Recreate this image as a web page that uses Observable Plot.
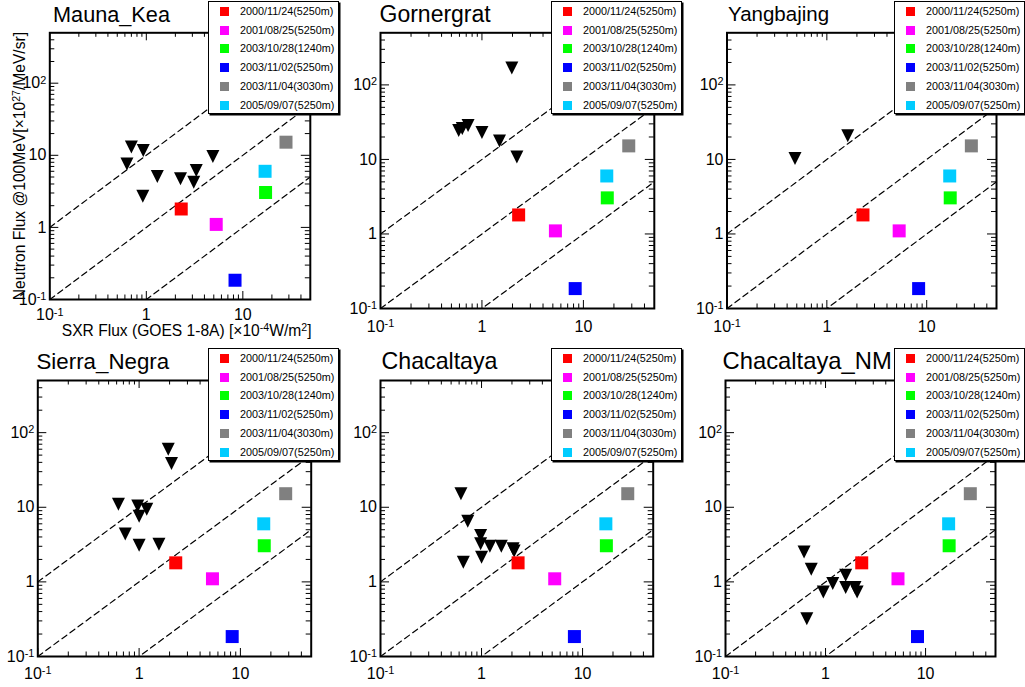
<!DOCTYPE html>
<html>
<head>
<meta charset="utf-8">
<script src="https://cdn.jsdelivr.net/npm/d3@7"></script>
<script src="https://cdn.jsdelivr.net/npm/@observablehq/plot@0.6"></script>
<style>
  body { margin: 0; background: #fff; }
  #root { position: relative; width: 1025px; height: 687px; overflow: hidden; font-family: "Liberation Sans", Arial, sans-serif; color: #000; }
  .pad { position: absolute; }
  .pad svg { overflow: visible; display: block; }
  #overlay { position: absolute; left: 0; top: 0; }
  .legend { position: absolute; box-sizing: border-box; width: 131px; height: 113px; background: #fff; border: 1px solid #000; box-shadow: 1.5px 1.5px 0 #000; }
  .legend .sw { position: absolute; width: 9px; height: 9px; }
  .legend .lt { position: absolute; font-size: 10.8px; line-height: 11px; white-space: nowrap; }
</style>
</head>
<body>
<div id="root"></div>
<script>
// ---------- data ----------
const stationNames = ["Mauna_Kea", "Gornergrat", "Yangbajing", "Sierra_Negra", "Chacaltaya", "Chacaltaya_NM"];

// upper limits (down triangles): SXR flux [1e-4 W/m^2], neutron flux [1e27 /MeV/sr]
const maunaKeaSXR      = [0.70, 0.93, 0.63, 1.30, 0.92, 2.26, 3.29, 3.10, 4.89];
const maunaKeaNeutron  = [13.0, 11.7, 7.6, 5.1, 2.71, 4.72, 6.15, 4.24, 9.6];
const gornergratSXR     = [1.97, 0.59, 0.64, 0.73, 1.0, 1.49, 2.21];
const gornergratNeutron = [168, 24.5, 26, 28.6, 22.9, 17.7, 10.8];
const yangbajingSXR     = [0.48, 1.62];
const yangbajingNeutron = [10.3, 20.8];
const sierraNegraSXR     = [1.94, 2.09, 0.625, 0.97, 1.19, 1.0, 0.73, 1.0, 1.57];
const sierraNegraNeutron = [59.7, 38.7, 11.0, 10.4, 9.4, 7.6, 4.37, 3.1, 3.2];
const chacaltayaSXR     = [0.625, 0.73, 0.98, 0.98, 1.21, 1.57, 2.05, 2.1, 1.0, 0.66];
const chacaltayaNeutron = [15.2, 6.5, 4.19, 3.24, 3.01, 3.01, 2.77, 2.6, 2.14, 1.84];
const chacaltayaNMSXR     = [0.61, 0.72, 1.59, 1.18, 0.95, 1.59, 1.97, 2.07, 0.65];
const chacaltayaNMNeutron = [2.52, 1.48, 1.23, 0.95, 0.73, 0.84, 0.84, 0.73, 0.32];

// detected events (squares)
const eventLabels  = ["2000/11/24(5250m)", "2001/08/25(5250m)", "2003/10/28(1240m)", "2003/11/02(5250m)", "2003/11/04(3030m)", "2005/09/07(5250m)"];
const eventSXR     = [2.3, 5.3, 17.2, 8.3, 28, 17];
const eventNeutron = [1.8, 1.1, 3.05, 0.185, 15.2, 6.0];
const eventColors  = ["#ff0000", "#ff00ff", "#00ff00", "#0000ff", "#808080", "#00ccff"];

// reference lines y = k * x
const refFactors = [10, 1, 0.1];
const refSXR = [0.1, 50];

// axes
const xDomain = [0.1, 50];
const yDomain = [0.1, 500];
const xMajor = [0.1, 1, 10];
const xMajorLabels = ["10^-1", "1", "10"];
const xMinor = [0.2, 0.3, 0.4, 0.5, 0.6, 0.7, 0.8, 0.9, 2, 3, 4, 5, 6, 7, 8, 9, 20, 30, 40];
const yMajor = [0.1, 1, 10, 100];
const yMajorLabels = ["10^-1", "1", "10", "10^2"];
const yMinor = [0.2, 0.3, 0.4, 0.5, 0.6, 0.7, 0.8, 0.9, 2, 3, 4, 5, 6, 7, 8, 9, 20, 30, 40, 50, 60, 70, 80, 90, 200, 300, 400];

const xTitle = "SXR Flux (GOES 1-8A) [×10^-4W/m^2]";
const yTitle = "Neutron Flux @100MeV[×10^27/MeV/sr]";

// ---------- layout ----------
const layouts = [
  {left: 0,   top: 0,   width: 342, height: 343, mL: 49.3, mR: 32.2, mT: 32.3, mB: 44,   pad: 9.5, title: [53, 21.5, 21.7],    legend: [208, 1]},
  {left: 342, top: 0,   width: 342, height: 343, mL: 38,   mR: 30.2, mT: 32.3, mB: 35,   pad: 12,  title: [379.5, 21.5, 23],   legend: [551, 1]},
  {left: 684, top: 0,   width: 341, height: 343, mL: 42.5, mR: 29,   mT: 32.3, mB: 35,   pad: 12,  title: [728, 20.5, 20.5],   legend: [894, 1]},
  {left: 0,   top: 344, width: 342, height: 343, mL: 37.3, mR: 31.3, mT: 36,   mB: 31,   pad: 11,  title: [36.5, 369, 22.3],   legend: [208, 348]},
  {left: 342, top: 344, width: 342, height: 343, mL: 38,   mR: 31.3, mT: 36,   mB: 31,   pad: 11,  title: [381.5, 369, 23.2],  legend: [551, 348]},
  {left: 684, top: 344, width: 341, height: 343, mL: 41,   mR: 30,   mT: 36,   mB: 31,   pad: 11,  title: [722.5, 369, 23.8],  legend: [894, 348]}
];
const stationSXR = [maunaKeaSXR, gornergratSXR, yangbajingSXR, sierraNegraSXR, chacaltayaSXR, chacaltayaNMSXR];
const stationNeutron = [maunaKeaNeutron, gornergratNeutron, yangbajingNeutron, sierraNegraNeutron, chacaltayaNeutron, chacaltayaNMNeutron];

// ---------- symbols ----------
const triDown = {draw(ctx, size) { const r = Math.sqrt(size / Math.PI); ctx.moveTo(-r, -r); ctx.lineTo(r, -r); ctx.lineTo(0, r); ctx.closePath(); }};
const squareSym = {draw(ctx, size) { const r = Math.sqrt(size / Math.PI); ctx.rect(-r, -r, 2 * r, 2 * r); }};

const SVGNS = "http://www.w3.org/2000/svg";
function supify(textEl) {
  const s = textEl.textContent;
  const m = s.match(/^10\^(-?\d+)$/);
  if (!m) return;
  textEl.textContent = "10";
  const ts = document.createElementNS(SVGNS, "tspan");
  ts.setAttribute("dy", "-0.42em");
  ts.setAttribute("font-size", "0.68em");
  ts.textContent = m[1];
  textEl.appendChild(ts);
}

const root = document.getElementById("root");
const FONT = "Liberation Sans, Arial, sans-serif";

layouts.forEach((L, p) => {
  const tri = stationSXR[p].map((x, i) => ({x, y: stationNeutron[p][i]}));
  const ev = eventSXR.map((x, i) => ({x, y: eventNeutron[i], c: eventColors[i]}));
  const lines = refFactors.flatMap(k => refSXR.map(x => ({k, x, y: k * x})));
  const iw = L.width - L.mL - L.mR;
  const ih = L.height - L.mT - L.mB;
  const plot = Plot.plot({
    width: L.width, height: L.height,
    marginLeft: L.mL, marginRight: L.mR, marginTop: L.mT, marginBottom: L.mB,
    x: {type: "log", domain: xDomain},
    y: {type: "log", domain: yDomain},
    color: {type: "identity"},
    style: {background: "transparent", fontFamily: FONT, fontSize: "16px", overflow: "visible", color: "#000"},
    marks: [
      Plot.line(lines, {x: "x", y: "y", z: "k", stroke: "#000", strokeWidth: 1.2, strokeDasharray: "6,4", clip: true}),
      Plot.dot(tri, {x: "x", y: "y", symbol: triDown, r: 6.5, fill: "#000", stroke: "none"}),
      Plot.dot(ev, {x: "x", y: "y", symbol: squareSym, r: 6.5, fill: "c", stroke: "none"}),
      // inward ticks: bottom / top
      Plot.tickX(xMajor, {x: d => d, stroke: "#000", strokeWidth: 1, insetTop: ih - 8}),
      Plot.tickX(xMinor, {x: d => d, stroke: "#000", strokeWidth: 1, insetTop: ih - 4.5}),
      Plot.tickX(xMajor, {x: d => d, stroke: "#000", strokeWidth: 1, insetBottom: ih - 8}),
      Plot.tickX(xMinor, {x: d => d, stroke: "#000", strokeWidth: 1, insetBottom: ih - 4.5}),
      // inward ticks: left / right
      Plot.tickY(yMajor, {y: d => d, stroke: "#000", strokeWidth: 1, insetRight: iw - 9}),
      Plot.tickY(yMinor, {y: d => d, stroke: "#000", strokeWidth: 1, insetRight: iw - 5}),
      Plot.tickY(yMajor, {y: d => d, stroke: "#000", strokeWidth: 1, insetLeft: iw - 9}),
      Plot.tickY(yMinor, {y: d => d, stroke: "#000", strokeWidth: 1, insetLeft: iw - 5}),
      // labels
      Plot.axisX({anchor: "bottom", ticks: xMajor, tickSize: 0, tickPadding: L.pad, label: null, fontSize: 16,
                  tickFormat: d => xMajorLabels[xMajor.indexOf(d)]}),
      Plot.axisY({anchor: "left", ticks: yMajor, tickSize: 0, tickPadding: 3.5, label: null, fontSize: 16,
                  tickFormat: d => yMajorLabels[yMajor.indexOf(d)]}),
      Plot.frame({stroke: "#000", strokeWidth: 2})
    ]
  });
  plot.querySelectorAll("text").forEach(supify);
  const div = document.createElement("div");
  div.className = "pad";
  div.style.left = L.left + "px";
  div.style.top = L.top + "px";
  div.appendChild(plot);
  root.appendChild(div);
});

// ---------- overlay: titles and axis titles ----------
const overlay = document.createElementNS(SVGNS, "svg");
overlay.setAttribute("id", "overlay");
overlay.setAttribute("width", 1025);
overlay.setAttribute("height", 687);
overlay.setAttribute("font-family", FONT);
root.appendChild(overlay);

function richText(parent, str, attrs) {
  const t = document.createElementNS(SVGNS, "text");
  for (const k in attrs) t.setAttribute(k, attrs[k]);
  const parts = str.split(/\^(-?\d+)/);
  parts.forEach((part, i) => {
    if (!part) return;
    const ts = document.createElementNS(SVGNS, "tspan");
    ts.textContent = part;
    if (i % 2 === 1) {
      ts.setAttribute("font-size", "0.68em");
      ts.setAttribute("dy", "-0.42em");
    } else if (i > 0) {
      ts.setAttribute("dy", "0.286em");
    }
    t.appendChild(ts);
  });
  parent.appendChild(t);
  return t;
}

layouts.forEach((L, p) => {
  const t = document.createElementNS(SVGNS, "text");
  t.setAttribute("x", L.title[0]);
  t.setAttribute("y", L.title[1]);
  t.setAttribute("font-size", L.title[2]);
  t.textContent = stationNames[p];
  overlay.appendChild(t);
});

richText(overlay, xTitle, {x: 311.5, y: 335.5, "text-anchor": "end", "font-size": 15.6});
richText(overlay, yTitle, {transform: "translate(24.5,32) rotate(-90)", "text-anchor": "end", "font-size": 15.6});

// ---------- legends ----------
layouts.forEach((L) => {
  const box = document.createElement("div");
  box.className = "legend";
  box.style.left = L.legend[0] + "px";
  box.style.top = L.legend[1] + "px";
  eventLabels.forEach((lab, i) => {
    const cy = 9.3 + i * 18.75;
    const sw = document.createElement("div");
    sw.className = "sw";
    sw.style.left = "11px";
    sw.style.top = (cy - 4.5) + "px";
    sw.style.background = eventColors[i];
    box.appendChild(sw);
    const tx = document.createElement("div");
    tx.className = "lt";
    tx.style.left = "31px";
    tx.style.top = (cy - 5.5) + "px";
    tx.textContent = lab;
    box.appendChild(tx);
  });
  root.appendChild(box);
});
</script>
</body>
</html>
